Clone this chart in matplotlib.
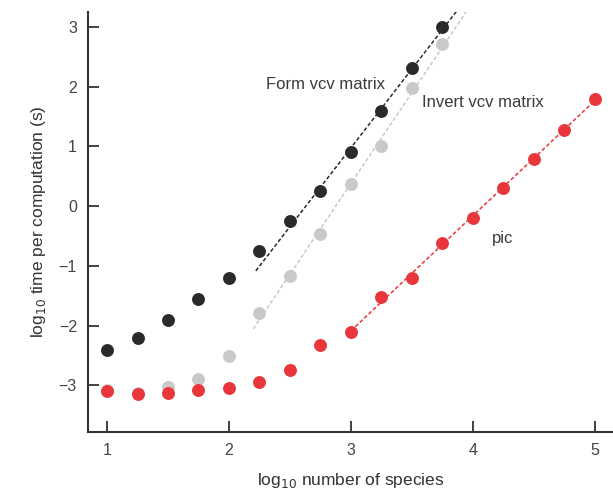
import numpy as np
import matplotlib.pyplot as plt

plt.rcParams['font.family'] = ['Liberation Sans', 'DejaVu Sans']

# log10 number of species
x = np.array([1.0, 1.25, 1.5, 1.75, 2.0, 2.25, 2.5, 2.75, 3.0, 3.25, 3.5, 3.75, 4.0, 4.25, 4.5, 4.75, 5.0])

# log10 time per computation (s)
form_vcv = [-2.41, -2.21, -1.90, -1.56, -1.21, -0.75, -0.25, 0.26, 0.91, 1.60, 2.31, 3.00]
invert_vcv = [-3.08, -3.12, -3.03, -2.90, -2.51, -1.79, -1.17, -0.46, 0.37, 1.01, 1.97, 2.72]
pic = [-3.10, -3.14, -3.12, -3.08, -3.04, -2.94, -2.75, -2.32, -2.10, -1.52, -1.20, -0.61,
       -0.19, 0.30, 0.79, 1.28, 1.80]

black = '#2a2a2a'
grey = '#c9c9c9'
red = '#e8363b'

fig = plt.figure(figsize=(6.13, 4.92), dpi=100)
ax = fig.add_axes([0.1436, 0.122, 0.8564, 0.8536])

#dashed fit lines over the large-tree part
def fitline(xs, ys, x0, x1, col):
  xs = np.asarray(xs)
  ys = np.asarray(ys)
  b = np.polyfit(xs, ys, 1)
  xx = np.array([x0, x1])
  ax.plot(xx, np.polyval(b, xx), ls=(0, (2.5, 1.5)), lw=1.1, color=col, zorder=4)

nf = len(form_vcv)
ni = len(invert_vcv)
ax.plot(x[:nf], form_vcv, 'o', ms=9.3, color=black, mec='none', zorder=2)
ax.plot(x[:ni], invert_vcv, 'o', ms=9.3, color=grey, mec='none', zorder=2)
ax.plot(x, pic, 'o', ms=9.3, color=red, mec='none', zorder=3)

fitline(x[6:nf], form_vcv[6:], 2.22, 4.2, black)
fitline(x[5:ni], invert_vcv[5:], 2.2, 4.3, grey)
fitline(x[8:], pic[8:], 3.0, 5.0, red)

ax.text(2.3, 2.04, 'Form vcv matrix', fontsize=12, color='#3a3a3a', va='center')
ax.text(3.58, 1.74, 'Invert vcv matrix', fontsize=12, color='#3a3a3a', va='center')
ax.text(4.16, -0.54, 'pic', fontsize=12, color='#3a3a3a', va='center')

ax.set_xlim(0.844, 5.15)
ax.set_ylim(-3.78, 3.25)
ax.set_xticks([1, 2, 3, 4, 5])
ax.set_yticks([-3, -2, -1, 0, 1, 2, 3])
ax.set_yticklabels(['\u22123', '\u22122', '\u22121', '0', '1', '2', '3'])
ax.tick_params(direction='in', length=8, width=1.3, color='#333333', labelsize=11.5,
               labelcolor='#444444', pad=8)
for s in ['top', 'right']:
  ax.spines[s].set_visible(False)
for s in ['left', 'bottom']:
  ax.spines[s].set_linewidth(1.5)
  ax.spines[s].set_color('#333333')

ax.set_xlabel('log$_{10}$ number of species', fontsize=12.5, color='#333333', labelpad=9)
ax.set_ylabel('log$_{10}$ time per computation (s)', fontsize=12.5, color='#333333', labelpad=8)

plt.savefig('out.png', dpi=100)
